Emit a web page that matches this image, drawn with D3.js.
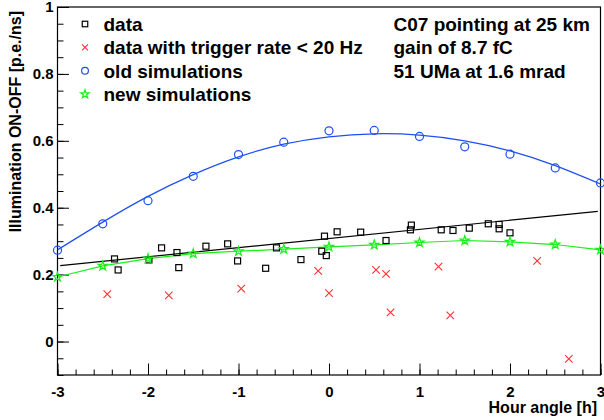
<!DOCTYPE html>
<html>
<head>
<meta charset="utf-8">
<script src="https://cdn.jsdelivr.net/npm/d3@7"></script>
<style>
  html, body { margin: 0; padding: 0; background: #fff; }
  svg { display: block; }
  text { font-family: "Liberation Sans", Arial, Helvetica, sans-serif; font-weight: bold; fill: #000; }
</style>
</head>
<body>
<svg id="chart" width="604" height="420"></svg>
<script>
// Measured data: hour angle [h] vs illumination ON-OFF [p.e./ns]
const dataX = [-2.37, -2.33, -1.99, -1.85, -1.68, -1.66, -1.36, -1.12, -1.01, -0.70, -0.58, -0.31, -0.08, -0.05, -0.03,
               0.09, 0.35, 0.63, 0.90, 0.91, 1.24, 1.37, 1.55, 1.76, 1.88, 1.88, 2.00];
const dataY = [0.247, 0.214, 0.244, 0.280, 0.266, 0.221, 0.285, 0.292, 0.241, 0.219, 0.280, 0.245, 0.270, 0.315, 0.257,
               0.328, 0.327, 0.302, 0.334, 0.348, 0.334, 0.332, 0.339, 0.352, 0.350, 0.337, 0.325];

// Runs with trigger rate below 20 Hz
const lowRateX = [-2.45, -1.77, -0.97, -0.12, 0.00, 0.52, 0.63, 0.68, 1.21, 1.34, 2.30, 2.65];
const lowRateY = [0.142, 0.138, 0.158, 0.211, 0.145, 0.214, 0.202, 0.087, 0.224, 0.078, 0.241, -0.052];

// Simulations sampled every half hour
const simX = [-3, -2.5, -2, -1.5, -1, -0.5, 0, 0.5, 1, 1.5, 2, 2.5, 3];
const oldSimY = [0.273, 0.352, 0.421, 0.494, 0.559, 0.596, 0.630, 0.631, 0.613, 0.582, 0.560, 0.519, 0.474];
const newSimY = [0.193, 0.226, 0.248, 0.263, 0.270, 0.276, 0.283, 0.289, 0.296, 0.302, 0.298, 0.290, 0.274];

// Fit curves
const oldFitY = [0.274, 0.357, 0.434, 0.499, 0.552, 0.590, 0.612, 0.621, 0.617, 0.600, 0.570, 0.526, 0.471];
const dataFitX = [-2.97, 2.97];
const dataFitY = [0.227, 0.389];

// Axes
const xTicks = [-3, -2, -1, 0, 1, 2, 3];
const xTickLabels = ["-3", "-2", "-1", "0", "1", "2", "3"];
const yTicks = [0, 0.2, 0.4, 0.6, 0.8, 1];
const yTickLabels = ["0", "0.2", "0.4", "0.6", "0.8", "1"];
const xTitle = "Hour angle [h]";
const yTitle = "Illumination ON-OFF [p.e./ns]";

const legendLabels = ["data", "data with trigger rate < 20 Hz", "old simulations", "new simulations"];
const infoLines = ["C07 pointing at 25 km", "gain of 8.7 fC", "51 UMa at 1.6 mrad"];

const colors = { data: "#000000", lowRate: "#ff3030", oldSim: "#1f4ff0", newSim: "#19f019" };

const svg = d3.select("#chart");
const plotLeft = 57.5, plotRight = 600.5, plotTop = 7, plotBottom = 375;

const x = d3.scaleLinear().domain([-3, 3]).range([plotLeft, plotRight]);
const y = d3.scaleLinear().domain([-0.1, 1]).range([plotBottom, plotTop]);

// Minor ticks
svg.append("g")
  .attr("transform", `translate(0,${plotBottom})`)
  .call(d3.axisBottom(x).tickValues(d3.range(-3, 3.0001, 0.2)).tickSize(-5.5).tickFormat(""))
  .call(g => g.select(".domain").remove());
svg.append("g")
  .attr("transform", `translate(${plotLeft},0)`)
  .call(d3.axisLeft(y).tickValues(d3.range(-0.1, 1.0001, 0.05)).tickSize(-6).tickFormat(""))
  .call(g => g.select(".domain").remove());

// Major ticks with labels
svg.append("g")
  .attr("transform", `translate(0,${plotBottom})`)
  .call(d3.axisBottom(x).tickValues(xTicks).tickSize(-11.5).tickPadding(11)
        .tickFormat((d, i) => xTickLabels[i]))
  .call(g => g.select(".domain").remove())
  .call(g => g.selectAll("text").style("font-size", "15px").attr("font-family", null));
svg.append("g")
  .attr("transform", `translate(${plotLeft},0)`)
  .call(d3.axisLeft(y).tickValues(yTicks).tickSize(-11.5).tickPadding(4)
        .tickFormat((d, i) => yTickLabels[i]))
  .call(g => g.select(".domain").remove())
  .call(g => g.selectAll("text").style("font-size", "15px").attr("font-family", null));

svg.selectAll(".tick line").attr("stroke", "#000").attr("stroke-width", 1);

// Frame
svg.append("rect")
  .attr("x", plotLeft).attr("y", plotTop)
  .attr("width", plotRight - plotLeft).attr("height", plotBottom - plotTop)
  .attr("fill", "none").attr("stroke", "#000").attr("stroke-width", 1.2);

// Axis titles
svg.append("text")
  .attr("x", 597).attr("y", 412.5)
  .attr("text-anchor", "end")
  .style("font-size", "16px")
  .text(xTitle);
svg.append("text")
  .attr("transform", "translate(20.7,11) rotate(-90)")
  .attr("text-anchor", "end")
  .style("font-size", "16px")
  .text(yTitle);

// Fit curves
const oldFit = simX.map((v, i) => [v, oldFitY[i]]);
svg.append("path")
  .datum(oldFit)
  .attr("fill", "none").attr("stroke", colors.oldSim).attr("stroke-width", 1.2)
  .attr("d", d3.line().x(d => x(d[0])).y(d => y(d[1])).curve(d3.curveNatural));

svg.append("path")
  .datum(dataFitX.map((v, i) => [v, dataFitY[i]]))
  .attr("fill", "none").attr("stroke", colors.data).attr("stroke-width", 1.2)
  .attr("d", d3.line().x(d => x(d[0])).y(d => y(d[1])));

const newSim = simX.map((v, i) => [v, newSimY[i]]);
svg.append("path")
  .datum(newSim)
  .attr("fill", "none").attr("stroke", colors.newSim).attr("stroke-width", 1.2)
  .attr("d", d3.line().x(d => x(d[0])).y(d => y(d[1])));

// Marker shapes
const star = d3.symbol().type(d3.symbolStar);
function drawSquare(g, cx, cy, s, col) {
  g.append("rect").attr("x", cx - s / 2).attr("y", cy - s / 2).attr("width", s).attr("height", s)
    .attr("fill", "none").attr("stroke", col).attr("stroke-width", 1.2);
}
function drawCross(g, cx, cy, s, col) {
  const h = s / 2;
  g.append("path").attr("d", `M${cx - h},${cy - h}L${cx + h},${cy + h}M${cx - h},${cy + h}L${cx + h},${cy - h}`)
    .attr("fill", "none").attr("stroke", col).attr("stroke-width", 1.1);
}
function drawCircle(g, cx, cy, r, col) {
  g.append("circle").attr("cx", cx).attr("cy", cy).attr("r", r)
    .attr("fill", "none").attr("stroke", col).attr("stroke-width", 1.2);
}
function drawStar(g, cx, cy, size, col) {
  g.append("path").attr("d", star.size(size)()).attr("transform", `translate(${cx},${cy})`)
    .attr("fill", "none").attr("stroke", col).attr("stroke-width", 1.2);
}

const marks = svg.append("g");
oldSimY.forEach((v, i) => drawCircle(marks, x(simX[i]), y(v), 4, colors.oldSim));
dataY.forEach((v, i) => drawSquare(marks, x(dataX[i]), y(v), 6, colors.data));
lowRateY.forEach((v, i) => drawCross(marks, x(lowRateX[i]), y(v), 7.5, colors.lowRate));
newSimY.forEach((v, i) => drawStar(marks, x(simX[i]), y(v), 26, colors.newSim));

// Legend
const legend = svg.append("g");
const rowY = i => 24 + 23.4 * i;
drawSquare(legend, 85, rowY(0), 5.5, colors.data);
drawCross(legend, 85, rowY(1), 6, colors.lowRate);
drawCircle(legend, 85, rowY(2), 3.4, colors.oldSim);
drawStar(legend, 85, rowY(3), 22, colors.newSim);
legendLabels.forEach((t, i) => {
  legend.append("text").attr("x", 103.5).attr("y", rowY(i) + 7).style("font-size", "19px").text(t);
});
infoLines.forEach((t, i) => {
  legend.append("text").attr("x", 393.5).attr("y", 31 + 23.4 * i).style("font-size", "19px").text(t);
});
</script>
</body>
</html>
